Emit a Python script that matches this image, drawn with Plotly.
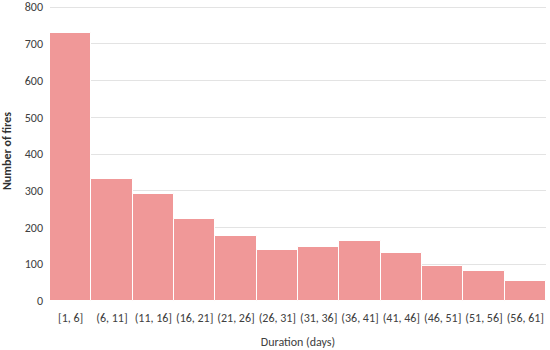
import plotly.graph_objects as go

categories = ["[1, 6]", "(6, 11]", "(11, 16]", "(16, 21]", "(21, 26]", "(26, 31]",
              "(31, 36]", "(36, 41]", "(41, 46]", "(46, 51]", "(51, 56]", "(56, 61]"]
fires = [730, 333, 292, 222, 178, 139, 146, 164, 131, 95, 83, 54]
y_ticks = [0, 100, 200, 300, 400, 500, 600, 700, 800]

FONT = "Carlito, Calibri, Lato, sans-serif"

fig = go.Figure(go.Bar(
    x=categories, y=fires,
    marker=dict(color="#F09898", line=dict(color="white", width=1)),
))
fig.update_layout(
    width=550, height=350,
    margin=dict(l=50, r=4, t=1, b=49, autoexpand=False),
    paper_bgcolor="white", plot_bgcolor="white",
    bargap=0, showlegend=False,
    font=dict(family=FONT, size=12, color="#404040"),
)
fig.update_xaxes(
    title=dict(text="Duration (days)", font=dict(size=12, color="#404040"), standoff=13),
    showgrid=False, showline=False, ticks="", tickfont=dict(size=12), automargin=False,
    tickangle=0, ticklabelstandoff=8,
)
fig.update_yaxes(
    title=dict(text="<b>Number of fires</b>", font=dict(size=12, color="#303030"), standoff=10),
    range=[0, 817], tickvals=y_ticks, showgrid=True, gridcolor="#E3E3E3", gridwidth=1,
    zeroline=False, showline=False, ticks="", tickfont=dict(size=12), automargin=False,
    ticklabelstandoff=6,
)
fig.write_html("out.html", config={"displayModeBar": False},
               post_script="document.body.style.margin='0';")
